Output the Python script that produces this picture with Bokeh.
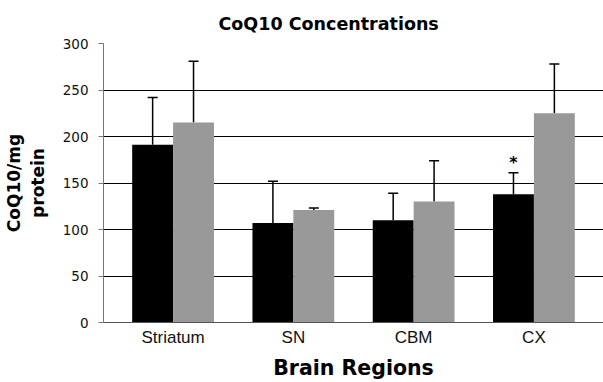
from bokeh.plotting import figure
from bokeh.models import ColumnDataSource, Whisker, TeeHead, FixedTicker, Range1d
from bokeh.core.properties import value
from bokeh.embed import file_html
from bokeh.resources import INLINE

# ---- data ----
regions = ["Striatum", "SN", "CBM", "CX"]
black_means = [191, 107, 110, 138]
black_err_top = [242, 152, 139, 161]
gray_means = [215, 121, 130, 225]
gray_err_top = [281, 123, 174, 278]
significant = [False, False, False, True]
y_ticks = [0, 50, 100, 150, 200, 250, 300]

pos = list(range(len(regions)))
dx = 0.17
bw = 0.34

p = figure(width=603, height=382,
           x_range=Range1d(-0.5785, 3.5785), y_range=Range1d(0, 300),
           output_backend="svg", toolbar_location=None,
           min_border_left=100, min_border_right=0,
           min_border_top=43, min_border_bottom=59)
p.outline_line_color = None
p.background_fill_color = "white"
p.border_fill_color = "white"

# title
p.title.text = "CoQ10 Concentrations"
p.title.align = "left"
p.title.offset = 115
p.title.text_font = "DejaVu Sans"
p.title.text_font_size = "17.5px"
p.title.text_font_style = "bold"
p.title.text_color = "black"
p.title.standoff = 20

src_black = ColumnDataSource(dict(x=[i - dx for i in pos], top=black_means, upper=black_err_top))
src_gray = ColumnDataSource(dict(x=[i + dx for i in pos], top=gray_means, upper=gray_err_top))

p.vbar(x="x", top="top", width=bw, source=src_black, fill_color="black", line_color=None)
p.vbar(x="x", top="top", width=bw, source=src_gray, fill_color="#999999", line_color=None)

for src in (src_black, src_gray):
    w = Whisker(base="x", lower="top", upper="upper", source=src,
                line_color="black", line_width=1.5,
                upper_head=TeeHead(size=10, line_color="black", line_width=1.5),
                lower_head=None)
    p.add_layout(w)

# significance marker
sig_x = [pos[i] - dx for i in pos if significant[i]]
sig_y = [black_err_top[i] for i in pos if significant[i]]
p.text(x=sig_x, y=sig_y, text=["*"] * len(sig_x), text_align="center",
       text_baseline="alphabetic", y_offset=-10,
       text_font=value("DejaVu Sans"), text_font_style="bold",
       text_font_size="16px", text_color="black")

# grid
p.xgrid.visible = False
p.ygrid.ticker = FixedTicker(ticks=y_ticks)
p.ygrid.grid_line_color = "black"
p.ygrid.grid_line_width = 1

# y axis
p.yaxis.ticker = FixedTicker(ticks=y_ticks)
p.yaxis.axis_line_color = "#777777"
p.yaxis.major_tick_line_color = "#777777"
p.yaxis.major_tick_out = 5
p.yaxis.major_tick_in = 0
p.yaxis.minor_tick_line_color = None
p.yaxis.major_label_standoff = 10
p.yaxis.major_label_text_font = "DejaVu Sans"
p.yaxis.major_label_text_font_size = "13.5px"
p.yaxis.major_label_text_color = "#111111"
p.yaxis.axis_label = "CoQ10/mg\nprotein"
p.yaxis.axis_label_text_font = "DejaVu Sans"
p.yaxis.axis_label_text_font_size = "17px"
p.yaxis.axis_label_text_font_style = "bold"
p.yaxis.axis_label_text_color = "black"
p.yaxis.axis_label_standoff = 12

# x axis
p.xaxis.ticker = FixedTicker(ticks=pos)
p.xaxis.major_label_overrides = {i: r for i, r in zip(pos, regions)}
p.xaxis.axis_line_color = "#555555"
p.xaxis.major_tick_line_color = None
p.xaxis.minor_tick_line_color = None
p.xaxis.major_tick_out = 0
p.xaxis.major_tick_in = 0
p.xaxis.major_label_standoff = 5
p.xaxis.major_label_text_font = "Liberation Sans"
p.xaxis.major_label_text_font_size = "17px"
p.xaxis.major_label_text_color = "#111111"
p.xaxis.axis_label = "Brain Regions"
p.xaxis.axis_label_text_font = "DejaVu Sans"
p.xaxis.axis_label_text_font_size = "20.5px"
p.xaxis.axis_label_text_font_style = "bold"
p.xaxis.axis_label_text_color = "black"
p.xaxis.axis_label_standoff = 6

open("out.html", "w").write(file_html(p, INLINE))
